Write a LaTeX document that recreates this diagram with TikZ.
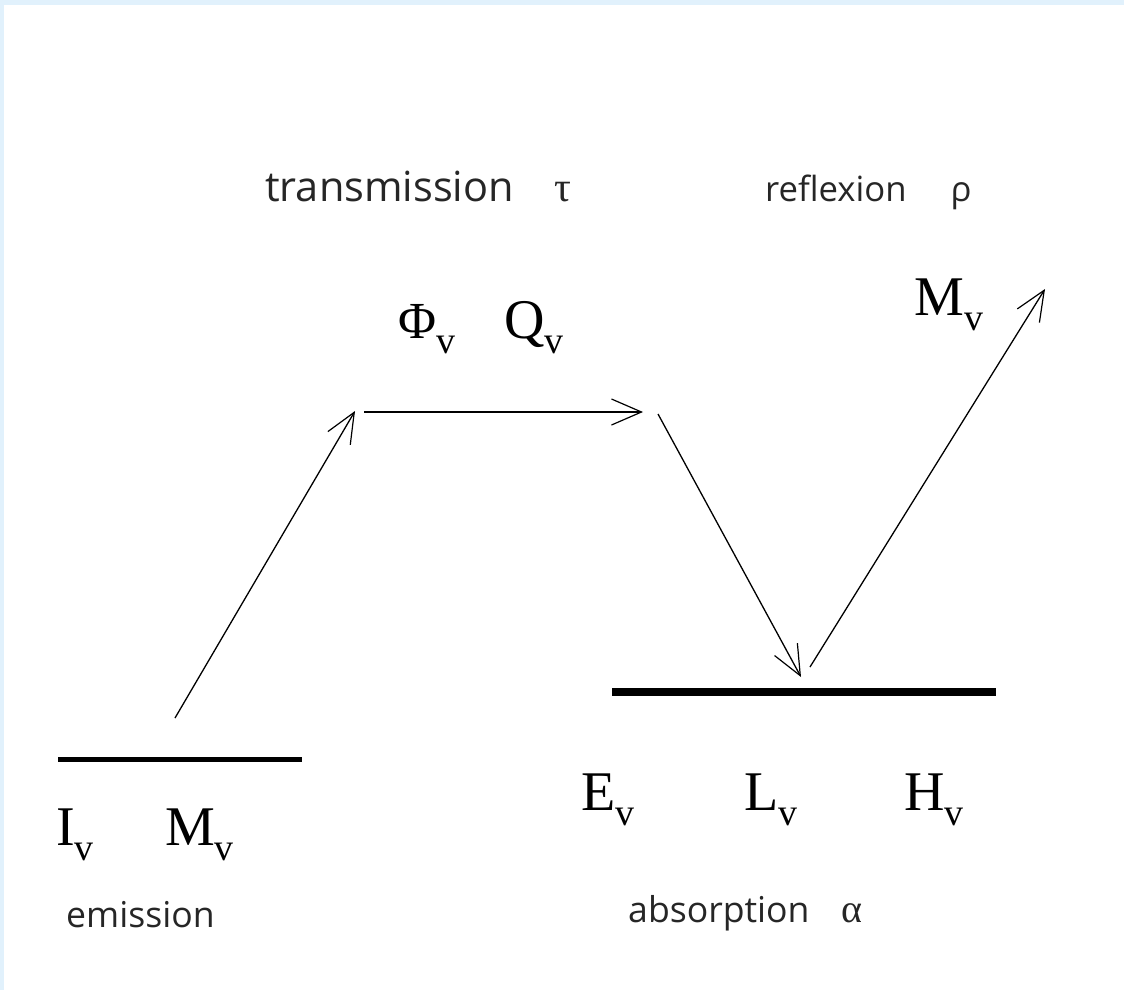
\documentclass[tikz,border=0pt]{standalone}
\usepackage{fontspec}
\setmainfont{Liberation Serif}
\newfontfamily\lblfont{Open Sans}
\usetikzlibrary{arrows.meta}
\definecolor{edgeblue}{HTML}{E1F1FC}
\tikzset{
  lbl/.style={font=\lblfont, inner sep=0pt, anchor=base west, text=black!85},
  qty/.style={font=\fontsize{56}{58}\selectfont, inner sep=0pt, anchor=base west},
  ray/.style={line width=1.3pt, -{Straight Barb[length=30pt,width=26pt,line width=1.2pt]}},
  bar/.style={line width=#1}
}
\newcommand{\qv}[1]{#1\raisebox{-15pt}{\fontsize{38}{40}\selectfont v}}
\newcommand{\sz}[1]{\fontsize{#1}{#1}\selectfont}
\begin{document}
\begin{tikzpicture}[x=1pt,y=-1pt]
\fill[white] (0,0) rectangle (1124,990);
\useasboundingbox (0,0) rectangle (1124,990);
\fill[edgeblue] (0,0) rectangle (1124,5);
\fill[edgeblue] (0,0) rectangle (4,990);

% labels
\node[lbl] (trans) at (265,201) {\sz{41.5}transmission\hspace{40pt}\rmfamily\sz{42}τ};
\node[lbl] (refl) at (765,201) {\sz{34.7}reflexion\hspace{44pt}ρ};
\node[lbl] (emis) at (66,927) {\sz{35.6}emission};
\node[lbl] (abso) at (628,922) {\sz{35.6}absorption\hspace{32pt}\rmfamily\sz{40}α};

% quantities
\node[qty] (phi) at (398,338) {\qv{\sz{52}Φ}};
\node[qty] (q) at (504,338) {\qv{Q}};
\node[qty] (m2) at (914,315) {\qv{M}};
\node[qty] (i) at (56,845) {\qv{I}};
\node[qty] (m1) at (165,845) {\qv{M}};
\node[qty] (e) at (581,810) {\qv{E}};
\node[qty] (l) at (744,810) {\qv{L}};
\node[qty] (h) at (904,810) {\qv{H}};

% surfaces
\coordinate (s1a) at (58,759);
\coordinate (s1b) at (302,759);
\coordinate (s2a) at (612,692);
\coordinate (s2b) at (996,692);
\draw[bar=5pt] (s1a) -- (s1b);
\draw[bar=8pt] (s2a) -- (s2b);

% rays
\coordinate (r1s) at (175,718);
\coordinate (r1e) at (355,411);
\coordinate (r2s) at (364,412);
\coordinate (r2e) at (643,412);
\coordinate (r3s) at (658,414);
\coordinate (r3e) at (801,677);
\coordinate (r4s) at (810,667);
\coordinate (r4e) at (1045,289);
\draw[ray] (r1s) -- (r1e);
\draw[ray] (r2s) -- (r2e);
\draw[ray] (r3s) -- (r3e);
\draw[ray] (r4s) -- (r4e);
\end{tikzpicture}
\end{document}
